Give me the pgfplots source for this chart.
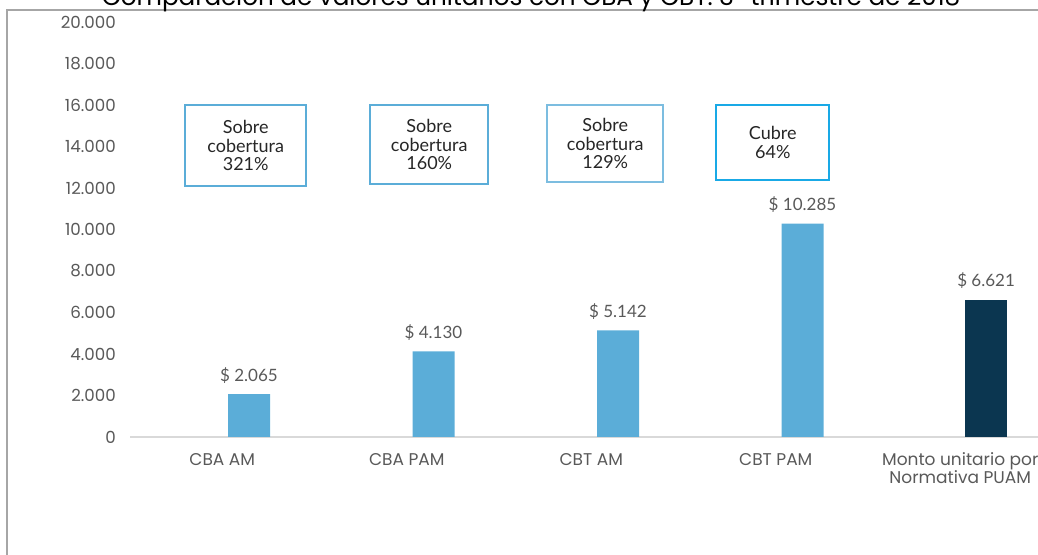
\documentclass[border=0pt]{standalone}
\usepackage{fontspec}
\usepackage{pgfplots}
\pgfplotsset{compat=1.18}
\setmainfont{Poppins}
\newfontfamily\boxfont{Lato}
\definecolor{barblue}{RGB}{91,173,216}
\definecolor{navy}{RGB}{11,54,80}
\definecolor{textgray}{RGB}{89,89,89}
\definecolor{axisgray}{RGB}{217,217,217}
\definecolor{framegray}{RGB}{166,166,166}
\definecolor{boxblue}{RGB}{91,173,216}
\definecolor{boxcyan}{RGB}{25,169,230}
\begin{document}
\begin{tikzpicture}
\useasboundingbox (0,0) rectangle (778.5pt,416.25pt);
\clip (0,0) rectangle (778.5pt,416.25pt);
% frame
\draw[framegray, line width=1.5pt] (5.25pt,-20pt) -- (5.25pt,408.75pt) -- (800pt,408.75pt);
% title (cut off at top, as in the reference)
\node[anchor=base, font=\fontsize{18.5pt}{21pt}\selectfont, text=black, inner sep=0pt] at (398.25pt,411.75pt) {Comparación de valores unitarios con CBA y CBT: 3° trimestre de 2018};
\begin{axis}[
  at={(97.5pt,88.5pt)}, anchor=south west, scale only axis,
  width=691.875pt, height=311.25pt,
  xmin=-0.5, xmax=4.5, ymin=0, ymax=20000,
  axis x line=bottom, axis y line=left,
  x axis line style={draw=axisgray, line width=1.5pt, -},
  y axis line style={draw=none, -},
  tick style={draw=none},
  major tick length=0pt,
  scaled y ticks=false,
  xtick={0,1,2,3,4},
  xticklabels={CBA AM, CBA PAM, CBT AM, CBT PAM, {Monto unitario por\\Normativa PUAM}},
  xticklabel style={align=center, text=textgray, font=\fontsize{12.75pt}{13.5pt}\selectfont, yshift=-8.5pt},
  ytick={0,2000,...,20000},
  yticklabel style={text=textgray, font=\fontsize{12.5pt}{14pt}\selectfont, inner sep=0pt, xshift=-10.5pt},
  /pgf/number format/1000 sep={.},
  /pgf/number format/assume math mode=true,
  clip=false,
  nodes near coords={\$ \pgfmathprintnumber{\pgfplotspointmeta}},
  nodes near coords style={text=textgray, font=\boxfont\fontsize{12.75pt}{14pt}\selectfont, anchor=south, yshift=4.5pt},
]
\addplot[ybar, bar width=31.5pt, bar shift=0pt, fill=barblue, draw=none]
  coordinates {(0.145,2065) (1.145,4130) (2.145,5142) (3.145,10285)};
\addplot[ybar, bar width=31.5pt, bar shift=0pt, fill=navy, draw=none]
  coordinates {(4.14,6621)};
\node[draw=boxblue, line width=1.5pt, minimum width=90.75pt, minimum height=60.75pt, inner sep=0pt, align=center, text=black!85, font=\boxfont\fontsize{13.5pt}{14pt}\selectfont] at (axis cs:0.127,14048) {Sobre\\cobertura\\321\%};
\node[draw=boxblue, line width=1.5pt, minimum width=88.5pt, minimum height=59.25pt, inner sep=0pt, align=center, text=black!85, font=\boxfont\fontsize{13.5pt}{14pt}\selectfont] at (axis cs:1.122,14096) {Sobre\\cobertura\\160\%};
\node[draw=boxblue!80, line width=1.2pt, minimum width=87pt, minimum height=57.75pt, inner sep=0pt, align=center, text=black!85, font=\boxfont\fontsize{13.5pt}{14pt}\selectfont] at (axis cs:2.076,14145) {Sobre\\cobertura\\129\%};
\node[draw=boxcyan, line width=1.5pt, minimum width=84.75pt, minimum height=56.25pt, inner sep=0pt, align=center, text=black!85, font=\boxfont\fontsize{13.5pt}{14pt}\selectfont] at (axis cs:2.984,14193) {Cubre\\64\%};
\end{axis}
\end{tikzpicture}
\end{document}
